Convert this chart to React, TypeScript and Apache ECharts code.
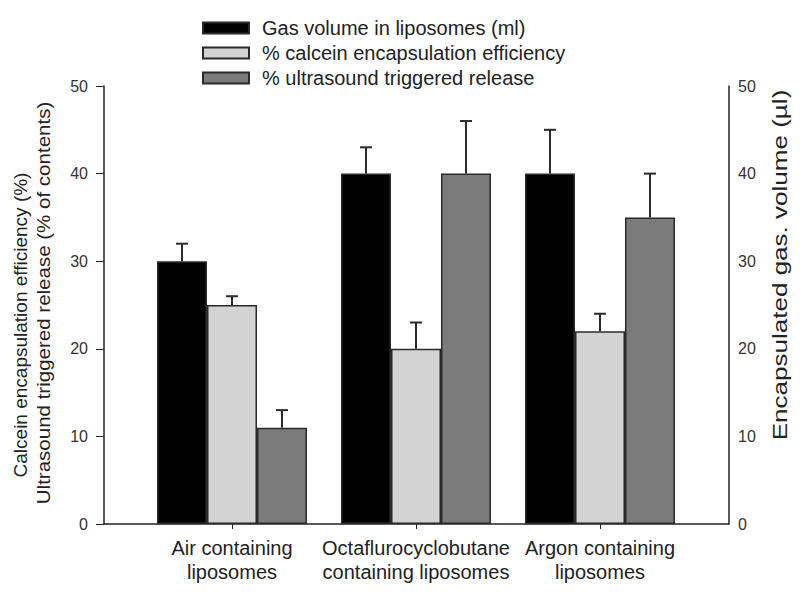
import React, { useEffect, useRef } from "react";
import * as echarts from "echarts";

const categories = [
  "Air containing\nliposomes",
  "Octaflurocyclobutane\ncontaining liposomes",
  "Argon containing\nliposomes",
];
const seriesNames = [
  "Gas volume in liposomes (ml)",
  "% calcein encapsulation efficiency",
  "% ultrasound triggered release",
];
const gasVolume = [30, 40, 40];
const gasVolumeUpper = [32, 43, 45];
const calcein = [25, 20, 22];
const calceinUpper = [26, 23, 24];
const release = [11, 40, 35];
const releaseUpper = [13, 46, 40];
const yMin = 0;
const yMax = 50;
const yStep = 10;
const leftTitle1 = "Calcein encapsulation efficiency (%)";
const leftTitle2 = "Ultrasound triggered release (% of contents)";
const rightTitle = "Encapsulated gas. volume (µl)";

const FONT = "'Liberation Sans', Arial, sans-serif";
const BAR_W = 50;
const colors = ["#000000", "#d3d3d3", "#7b7b7b"];

export default function App() {
  const ref = useRef<HTMLDivElement>(null);
  useEffect(() => {
    if (!ref.current) return;
    const chart = echarts.init(ref.current, null, { renderer: "svg" });
    const values = [gasVolume, calcein, release];
    const uppers = [gasVolumeUpper, calceinUpper, releaseUpper];

    const barSeries = values.map((vals, s) => ({
      name: seriesNames[s],
      type: "bar",
      xAxisIndex: 1,
      yAxisIndex: 2,
      barWidth: BAR_W,
      barGap: "0%",
      data: vals,
      itemStyle: { color: colors[s], borderColor: "#2a2a2a", borderWidth: 1.5 },
      z: 2,
    }));

    const errSeries = values.map((vals, s) => ({
      type: "custom",
      xAxisIndex: 1,
      yAxisIndex: 2,
      z: 5,
      silent: true,
      data: vals.map((v, i) => [i, v, uppers[s][i]]),
      renderItem: (params: any, api: any) => {
        const cat = api.value(0);
        const base = api.coord([cat, api.value(1)]);
        const top = api.coord([cat, api.value(2)]);
        const x = base[0] + (s - 1) * BAR_W;
        const st = { stroke: "#2a2a2a", lineWidth: 2 };
        return {
          type: "group",
          children: [
            { type: "line", shape: { x1: x, y1: base[1], x2: x, y2: top[1] }, style: st },
            { type: "line", shape: { x1: x - 6, y1: top[1], x2: x + 6, y2: top[1] }, style: st },
          ],
        };
      },
    }));

    chart.setOption({
      animation: false,
      backgroundColor: "#ffffff",
      textStyle: { fontFamily: FONT },
      grid: [
        { left: 104, right: 71, top: 86, bottom: 76 },
        { left: 140, right: 108, top: 86, bottom: 76 },
      ],
      legend: {
        orient: "vertical",
        left: 197,
        top: 13,
        itemWidth: 46,
        itemHeight: 11,
        itemGap: 5,
        icon: "rect",
        data: seriesNames,
        textStyle: { fontSize: 20, color: "#222", fontFamily: FONT, lineHeight: 20, padding: [0, 0, 0, 8] },
      },
      xAxis: [
        {
          type: "value",
          gridIndex: 0,
          min: 0,
          max: 1,
          axisLine: { show: true, onZero: false, lineStyle: { color: "#222", width: 1.5 } },
          axisTick: { show: false },
          axisLabel: { show: false },
          splitLine: { show: false },
        },
        {
          type: "category",
          gridIndex: 1,
          data: categories,
          axisLine: { show: false },
          axisTick: { show: true, alignWithLabel: true, length: 5, lineStyle: { color: "#222" } },
          axisLabel: { fontSize: 20, lineHeight: 24, color: "#222", margin: 12, fontFamily: FONT, interval: 0 },
          splitLine: { show: false },
        },
      ],
      yAxis: [
        {
          type: "value",
          gridIndex: 0,
          position: "left",
          min: yMin,
          max: yMax,
          interval: yStep,
          axisLine: { show: true, lineStyle: { color: "#222", width: 1.5 } },
          axisTick: { show: true, length: 8, lineStyle: { color: "#222" } },
          axisLabel: { fontSize: 16, color: "#333", margin: 16, fontFamily: FONT },
          splitLine: { show: false },
        },
        {
          type: "value",
          gridIndex: 0,
          position: "right",
          min: yMin,
          max: yMax,
          interval: yStep,
          axisLine: { show: true, lineStyle: { color: "#222", width: 1.5 } },
          axisTick: { show: false },
          axisLabel: { fontSize: 16, color: "#333", margin: 9, fontFamily: FONT },
          splitLine: { show: false },
        },
        {
          type: "value",
          gridIndex: 1,
          min: yMin,
          max: yMax,
          interval: yStep,
          show: false,
          splitLine: { show: false },
        },
      ],
      graphic: [
        {
          type: "text",
          x: 20,
          y: 325,
          rotation: Math.PI / 2,
          style: { text: leftTitle1, fontSize: 19, fill: "#222", align: "center", verticalAlign: "middle", fontFamily: FONT },
        },
        {
          type: "text",
          x: 43,
          y: 303,
          rotation: Math.PI / 2,
          scaleX: 1.08,
          style: { text: leftTitle2, fontSize: 19, fill: "#222", align: "center", verticalAlign: "middle", fontFamily: FONT },
        },
        {
          type: "text",
          x: 780,
          y: 265,
          rotation: Math.PI / 2,
          scaleX: 1.24,
          style: { text: rightTitle, fontSize: 21, fill: "#222", align: "center", verticalAlign: "middle", fontFamily: FONT },
        },
      ],
      series: [...barSeries, ...errSeries],
    });
    return () => chart.dispose();
  }, []);
  return <div ref={ref} style={{ position: "fixed", left: 0, top: 0, width: 800, height: 600 }} />;
}
